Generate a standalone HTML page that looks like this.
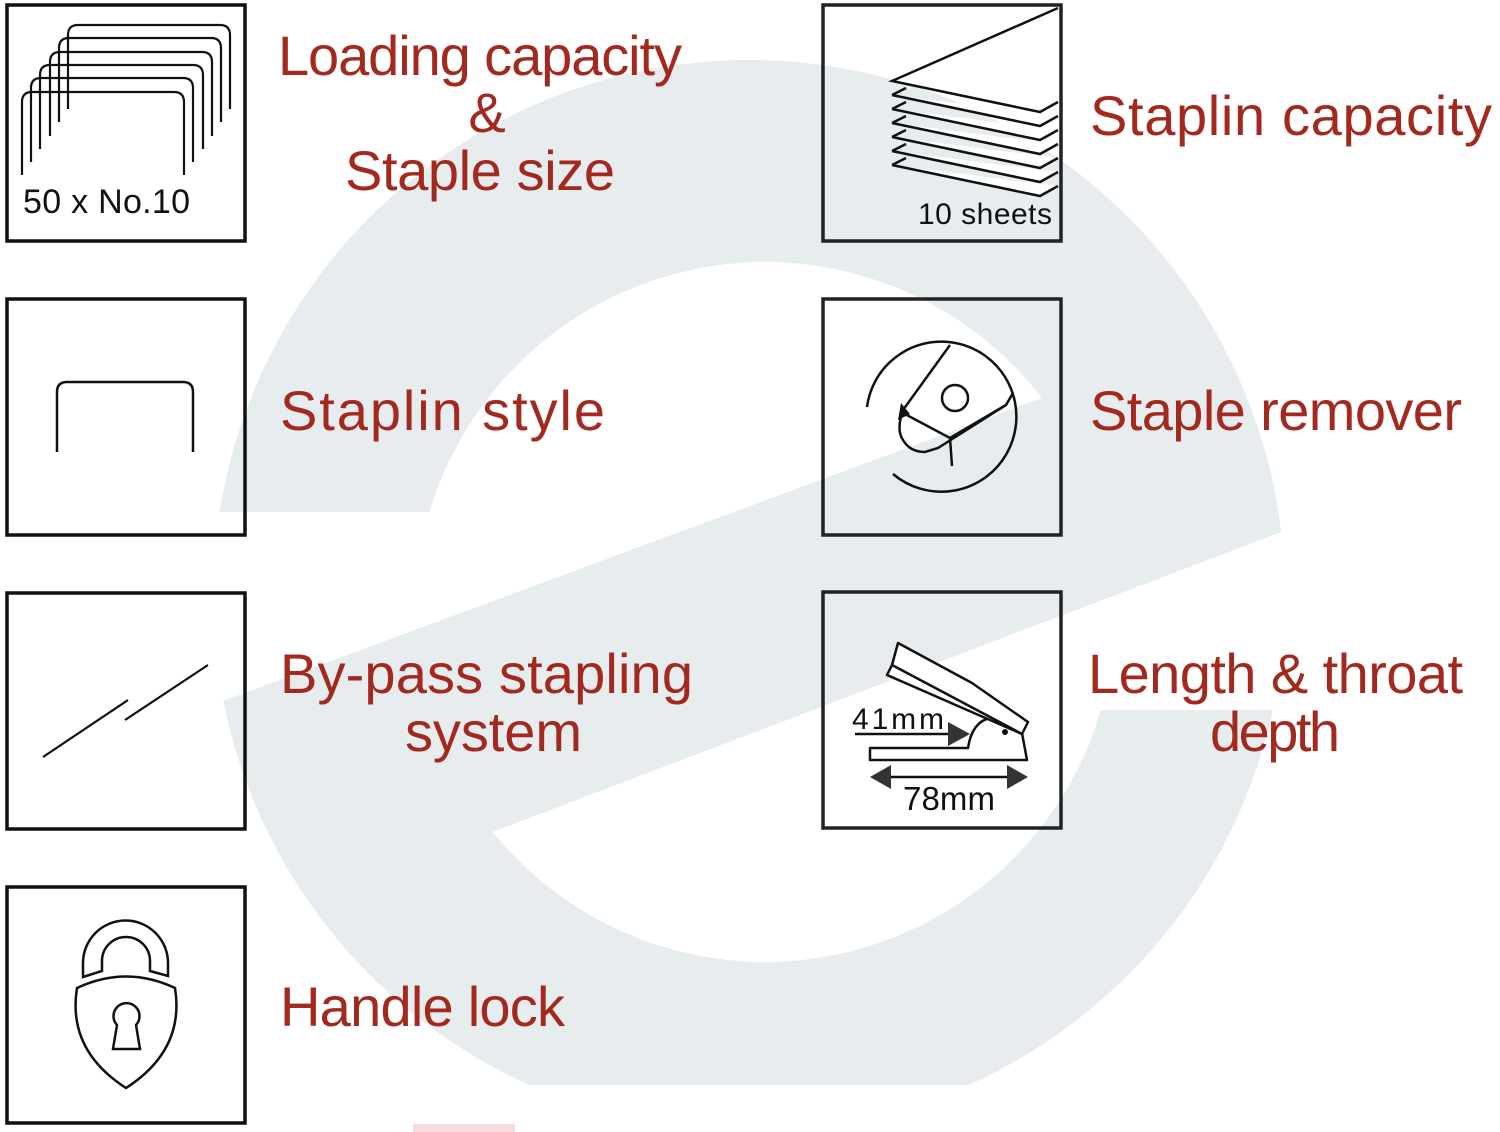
<!DOCTYPE html>
<html><head><meta charset="utf-8"><style>
html,body{margin:0;padding:0;background:#fff;}
svg{display:block;}
.t{font-family:"Liberation Sans",sans-serif;fill:#a3281e;font-size:56px;}
.k{font-family:"Liberation Sans",sans-serif;fill:#111;}
</style></head><body>
<svg width="1500" height="1132" viewBox="0 0 1500 1132" xmlns="http://www.w3.org/2000/svg">
<defs>
<clipPath id="above"><polygon points="0,0 1500,0 1500,228.5 0,783.5"/></clipPath>
<clipPath id="below"><polygon points="0,1019 1500,449 1500,1132 0,1132"/></clipPath>
</defs>
<!-- background e -->
<circle cx="749" cy="596" r="536" fill="#e7ecef"/>
<circle cx="765" cy="612" r="350" fill="#fff" clip-path="url(#above)"/>
<polygon points="0,512 440,512 440,620.7 0,783.5" fill="#fff"/>
<circle cx="765" cy="612" r="350" fill="#fff" clip-path="url(#below)"/>
<polygon points="1000,639 1500,449 1500,710 1000,710" fill="#fff"/>
<rect x="515" y="1085" width="985" height="47" fill="#fff"/>
<rect x="413" y="1124" width="102" height="8" fill="#f6dcdc"/>

<!-- boxes -->
<g fill="none" stroke="#111" stroke-width="3.5">
<rect x="7" y="5" width="238" height="236"/>
<rect x="7" y="299" width="238" height="236"/>
<rect x="7" y="593" width="238" height="236"/>
<rect x="7" y="887" width="238" height="236"/>
</g>
<g fill="none" stroke="#222" stroke-width="3.5">
<rect x="823" y="5" width="238" height="236"/>
<rect x="823" y="299" width="238" height="236"/>
<rect x="823" y="592" width="238" height="236"/>
</g>

<!-- staples icon -->
<g fill="none" stroke="#111" stroke-width="2.2">
<path d="M68,109 V35 Q68,25 78,25 H220 Q230,25 230,35 V109"/>
<path d="M59,122 V48 Q59,38 69,38 H211 Q221,38 221,48 V122"/>
<path d="M50,136 V62 Q50,52 60,52 H202 Q212,52 212,62 V136"/>
<path d="M40,149 V75 Q40,65 50,65 H193 Q203,65 203,75 V149"/>
<path d="M31,162 V88 Q31,78 41,78 H183 Q193,78 193,88 V162"/>
<path d="M22,175 V102 Q22,92 32,92 H174 Q184,92 184,102 V175"/>
</g>
<text x="23" y="213" class="k" font-size="34" textLength="167">50 x No.10</text>

<!-- sheets icon -->
<g fill="#fff" stroke="#111" stroke-width="2.5" stroke-linejoin="miter">
<path d="M892,165 L1040,196 L1058,186 M892,165 L906,158"/>
<path d="M892,151 L1040,182 L1058,172 M892,151 L906,144"/>
<path d="M892,137 L1040,168 L1058,158 M892,137 L906,130"/>
<path d="M892,123 L1040,154 L1058,144 M892,123 L906,116"/>
<path d="M892,109 L1040,140 L1058,130 M892,109 L906,102"/>
<path d="M892,95 L1040,126 L1058,116 M892,95 L906,88"/>
<path d="M1058,8 L892,81 L1040,112 L1058,102" fill="none"/>
</g>
<text x="1052" y="224" class="k" font-size="30" text-anchor="end" textLength="134">10 sheets</text>

<!-- staple style -->
<path d="M57,452 V392 Q57,382 67,382 H183 Q193,382 193,392 V452" fill="none" stroke="#111" stroke-width="2.5"/>

<!-- staple remover -->
<g fill="none" stroke="#111" stroke-width="2.5">
<path d="M867,407 A75,75 0 1 1 893,474"/>
<circle cx="955" cy="398" r="13"/>
<path d="M950,345 L903,410 Q896,430 903,440 Q910,452 925,452 L938,448 L1006,405 L1013,393"/>
<path d="M903,413 L950,438 L952,466 M950,438 L1006,405"/>
</g>
<polygon points="901,403 898,420 910,414" fill="#111"/>

<!-- bypass -->
<g stroke="#111" stroke-width="2.2">
<line x1="43" y1="757" x2="128" y2="700"/>
<line x1="125" y1="720" x2="208" y2="665"/>
</g>

<!-- stapler -->
<g fill="#fff" stroke="#111" stroke-width="2.5" stroke-linejoin="round">
<path d="M870,748 L968,748 Q972,722 990,718 L1022,733 L1027,760 L870,760 Z"/>
<path d="M898,643 L972,683 L1028,722 L1022,734 L887,675 L892,665 Z"/>
<path d="M892,665 L1022,734"/>
</g>
<circle cx="1005" cy="732" r="3" fill="#111"/>
<g stroke="#111" stroke-width="2.5">
<line x1="855" y1="734" x2="950" y2="734"/>
<line x1="880" y1="777" x2="1018" y2="777"/>
</g>
<polygon points="948,722 948,746 970,734" fill="#333"/>
<polygon points="870,777 891,765 891,789" fill="#333"/>
<polygon points="1028,777 1007,765 1007,789" fill="#333"/>
<text x="852" y="729" class="k" font-size="30" textLength="92">41mm</text>
<text x="903" y="810" class="k" font-size="33" textLength="92">78mm</text>

<!-- lock -->
<g fill="none" stroke="#111" stroke-width="2.5">
<path d="M83,977 V963 A42,42 0 0 1 168,963 V976 L150,971 V961 A24,24 0 0 0 102,961 V971 Z"/>
<path d="M77,988 Q126,965 175,988 Q185,1050 126,1088 Q67,1050 77,988 Z"/>
<path d="M117,1025 A13,13 0 1 1 136,1025 L140,1049 H113 Z"/>
</g>

<!-- labels -->
<text x="278" y="75" class="t" textLength="404">Loading capacity</text>
<text x="487" y="132" class="t" text-anchor="middle">&amp;</text>
<text x="345" y="190" class="t" textLength="270">Staple size</text>
<text x="1090" y="135" class="t" textLength="402">Staplin capacity</text>
<text x="280" y="430" class="t" textLength="325">Staplin style</text>
<text x="1090" y="430" class="t" textLength="372">Staple remover</text>
<text x="280" y="693" class="t" textLength="413">By-pass stapling</text>
<text x="405" y="751" class="t" textLength="177">system</text>
<text x="1088" y="693" class="t" textLength="375">Length &amp; throat</text>
<text x="1210" y="751" class="t" textLength="130">depth</text>
<text x="280" y="1026" class="t" textLength="285">Handle lock</text>
</svg>
</body></html>
